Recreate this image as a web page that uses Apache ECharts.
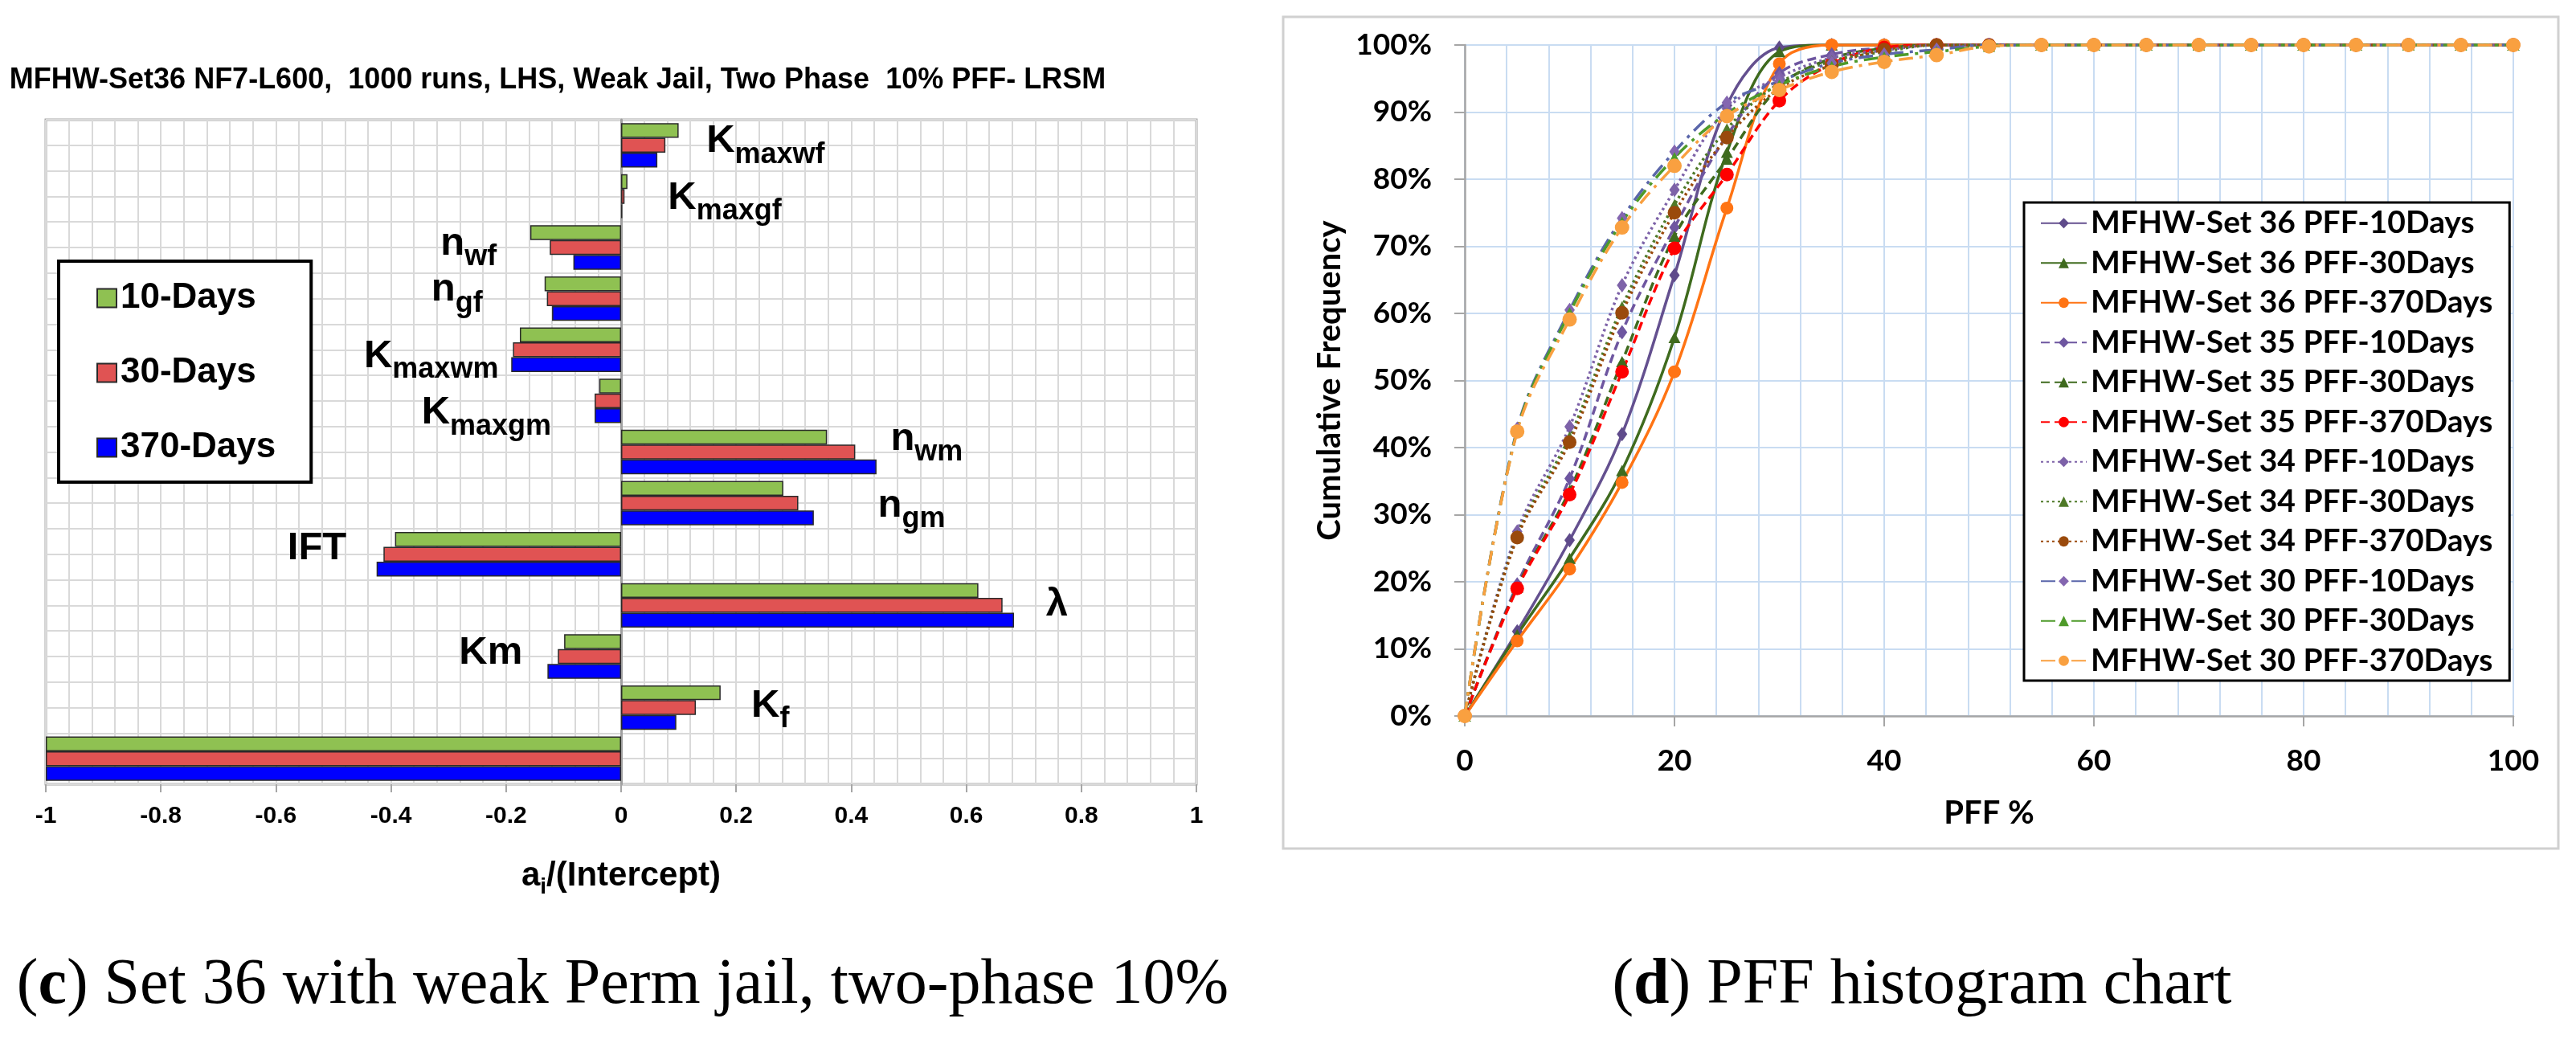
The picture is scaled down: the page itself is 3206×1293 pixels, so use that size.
<!DOCTYPE html>
<html>
<head>
<meta charset="utf-8">
<script src="https://cdn.jsdelivr.net/npm/echarts@6/dist/echarts.min.js"></script>
<style>
html,body{margin:0;padding:0;background:#ffffff;}
#c{width:3206px;height:1293px;}
</style>
</head>
<body>
<div id="c"></div>
<script>
// ---------- left chart data ----------
const categories = ['Kmaxwf','Kmaxgf','nwf','ngf','Kmaxwm','Kmaxgm','nwm','ngm','IFT','λ','Km','Kf','Intercept'];
const categoryLabels = ['{m|K}{s|maxwf}','{m|K}{s|maxgf}','{m|n}{s|wf}','{m|n}{s|gf}','{m|K}{s|maxwm}','{m|K}{s|maxgm}','{m|n}{s|wm}','{m|n}{s|gm}','{m|IFT}','{m|λ}','{m|Km}','{m|K}{s|f}',''];
const days10  = [0.100, 0.011, -0.158, -0.133, -0.176, -0.038, 0.358, 0.282, -0.393, 0.621, -0.099, 0.173, -1];
const days30  = [0.077, 0.006, -0.124, -0.129, -0.188, -0.046, 0.407, 0.308, -0.413, 0.663, -0.110, 0.130, -1];
const days370 = [0.063, 0.002, -0.083, -0.120, -0.191, -0.046, 0.444, 0.335, -0.425, 0.683, -0.128, 0.096, -1];
const barSeriesNames = ['10-Days','30-Days','370-Days'];

// ---------- right chart data ----------
const pffSteps = [0,5,10,15,20,25,30,35,40,45,50,55,60,65,70,75,80,85,90,95,100];
const s36d10  = [0,12.6,26.2,42.0,65.7,91.0,99.6,100,100,100,100,100,100,100,100,100,100,100,100,100,100];
const s36d30  = [0,12.1,23.5,36.6,56.4,84.0,99.0,100,100,100,100,100,100,100,100,100,100,100,100,100,100];
const s36d370 = [0,11.2,21.9,34.8,51.3,75.7,97.2,100,100,100,100,100,100,100,100,100,100,100,100,100,100];
const s35d10  = [0,19.6,35.4,57.2,72.8,86.5,95.8,98.6,99.6,100,100,100,100,100,100,100,100,100,100,100,100];
const s35d30  = [0,19.2,33.6,52.8,71.5,83.0,93.8,98.0,99.5,100,100,100,100,100,100,100,100,100,100,100,100];
const s35d370 = [0,19.0,33.0,51.3,69.7,80.7,91.7,97.2,99.6,100,100,100,100,100,100,100,100,100,100,100,100];
const s34d10  = [0,27.5,43.1,64.2,78.4,90.5,95.2,98.1,99.2,100,100,100,100,100,100,100,100,100,100,100,100];
const s34d30  = [0,26.9,41.6,61.0,76.2,87.5,94.3,97.6,99.0,100,100,100,100,100,100,100,100,100,100,100,100];
const s34d370 = [0,26.6,40.8,60.1,75.0,86.2,93.5,97.0,99.3,100,100,100,100,100,100,100,100,100,100,100,100];
const s30d10  = [0,42.8,60.5,74.2,84.1,91.4,94.6,97.3,98.6,99.3,100,100,100,100,100,100,100,100,100,100,100];
const s30d30  = [0,42.6,60.1,73.6,83.2,89.8,94.0,96.8,98.2,99.0,99.8,100,100,100,100,100,100,100,100,100,100];
const s30d370 = [0,42.4,59.1,72.8,82.0,89.4,93.3,96.0,97.5,98.5,99.8,100,100,100,100,100,100,100,100,100,100];
const yTickPercent = [0,10,20,30,40,50,60,70,80,90,100];

const lineSeriesNames = [
  'MFHW-Set 36 PFF-10Days','MFHW-Set 36 PFF-30Days','MFHW-Set 36 PFF-370Days',
  'MFHW-Set 35 PFF-10Days','MFHW-Set 35 PFF-30Days','MFHW-Set 35 PFF-370Days',
  'MFHW-Set 34 PFF-10Days','MFHW-Set 34 PFF-30Days','MFHW-Set 34 PFF-370Days',
  'MFHW-Set 30 PFF-10Days','MFHW-Set 30 PFF-30Days','MFHW-Set 30 PFF-370Days'
];
const lineValues = [s36d10,s36d30,s36d370,s35d10,s35d30,s35d370,s34d10,s34d30,s34d370,s30d10,s30d30,s30d370];

// ---------- styles ----------
const FONT = "'Liberation Sans', Arial, sans-serif";
const RFONT = "Lato, 'Open Sans', sans-serif";
const SERIF = "'Liberation Serif', 'Times New Roman', serif";
const barColors = ['#8FC152', '#E05353', '#0000FF'];
const DASH = [11, 6], DOT = [3, 4], DASHDOT = [18, 8, 4, 8];
const lineStyles = [
  {c:'#64508F', m:'#5F4B8B', sym:'diamond',  size:[13,18], dash:'solid'},
  {c:'#3F6B1E', m:'#3F6B1E', sym:'triangle', size:[15,14], dash:'solid'},
  {c:'#FF7414', m:'#FF7414', sym:'circle',   size:16,      dash:'solid'},
  {c:'#6E56A0', m:'#6E56A0', sym:'diamond',  size:[13,18], dash:DASH},
  {c:'#3F6B1E', m:'#3F6B1E', sym:'triangle', size:[15,14], dash:DASH},
  {c:'#FF0000', m:'#FF0000', sym:'circle',   size:17,      dash:DASH},
  {c:'#7D62A8', m:'#7D62A8', sym:'diamond',  size:[13,18], dash:DOT},
  {c:'#4F7A28', m:'#4F7A28', sym:'triangle', size:[15,14], dash:DOT},
  {c:'#9A4A0C', m:'#9A4A0C', sym:'circle',   size:17,      dash:DOT},
  {c:'#5A66AA', m:'#8466B0', sym:'diamond',  size:[13,18], dash:DASHDOT},
  {c:'#4E9A2A', m:'#4E9A2A', sym:'triangle', size:[15,14], dash:DASHDOT},
  {c:'#F9A040', m:'#F9A040', sym:'circle',   size:18,      dash:DASHDOT}
];
// placement of the parameter labels, relative to the middle (30-Days) bar
const labelPlace = [
  {p:'right', d:51, dy:-1}, {p:'right', d:54, dy:6}, {p:'left', d:66, dy:-1}, {p:'left', d:80, dy:-7},
  {p:'left', d:18, dy:12},  {p:'left', d:54, dy:19}, {p:'right', d:44, dy:-12}, {p:'right', d:99, dy:7},
  {p:'left', d:46, dy:-3},  {p:'right', d:54, dy:3}, {p:'left', d:44, dy:0},  {p:'right', d:69, dy:2},
  null
];
// subscript: main glyphs padded below, subscript padded above -> sub sits lower
const richLbl = {
  m: {fontSize:49, fontWeight:'bold', fontFamily:FONT, color:'#000', lineHeight:50, padding:[0,0,8,0]},
  s: {fontSize:36, fontWeight:'bold', fontFamily:FONT, color:'#000', lineHeight:32, padding:[26,0,0,0]}
};

const barData = [days10, days30, days370];
const barSeries = barData.map((vals, si) => ({
  name: barSeriesNames[si],
  type: 'bar',
  xAxisIndex: 0, yAxisIndex: 0,
  barGap: '0%', barCategoryGap: '13%',
  itemStyle: {color: barColors[si], borderColor: '#2a2a2a', borderWidth: 1.5},
  emphasis: {disabled: true},
  data: vals.map((v, i) => {
    const item = {value: v};
    if (si === 1 && labelPlace[i]) {
      item.label = {
        show: true, position: labelPlace[i].p, distance: labelPlace[i].d,
        offset: [0, labelPlace[i].dy],
        formatter: categoryLabels[i], rich: richLbl
      };
    }
    return item;
  })
}));

const lineSeries = lineValues.map((vals, si) => ({
  name: lineSeriesNames[si],
  type: 'line',
  xAxisIndex: 1, yAxisIndex: 2,
  smooth: 0.35,
  symbol: lineStyles[si].sym,
  symbolSize: lineStyles[si].size,
  showSymbol: true,
  lineStyle: {color: lineStyles[si].c, width: 3.5, type: lineStyles[si].dash},
  itemStyle: {color: lineStyles[si].m, borderWidth: 0},
  emphasis: {disabled: true},
  data: pffSteps.map((x, i) => [x, vals[i]])
}));

const chart = echarts.init(document.getElementById('c'), null, {renderer: 'canvas', width: 3206, height: 1293});
const option = {
  animation: false,
  backgroundColor: '#ffffff',
  textStyle: {fontFamily: FONT},
  grid: [
    {left: 57, top: 149, width: 1432, height: 827, show: true, borderColor: '#a6a6a6', borderWidth: 3, backgroundColor: 'transparent'},
    {left: 1823, top: 56, width: 1305, height: 835, show: false}
  ],
  legend: [
    {
      data: barSeriesNames, orient: 'vertical', left: 73, top: 325,
      itemWidth: 24, itemHeight: 23, itemGap: 43, itemTextGap: 11,
      padding: [21, 44, 18, 47], borderColor: '#000', borderWidth: 4, backgroundColor: '#fff',
      icon: 'rect', selectedMode: false,
      textStyle: {fontSize: 44, fontWeight: 'bold', fontFamily: FONT, color: '#000', lineHeight: 50}
    },
    {
      data: lineSeriesNames, orient: 'vertical', left: 2519, top: 252,
      itemWidth: 57, itemHeight: 16, itemGap: 0, itemTextGap: 7,
      padding: [1, 21, 0, 20], borderColor: '#000', borderWidth: 3, backgroundColor: '#fff',
      selectedMode: false,
      textStyle: {fontSize: 39, fontWeight: 'bold', fontFamily: RFONT, color: '#000', lineHeight: 49.5}
    }
  ],
  xAxis: [
    {
      gridIndex: 0, type: 'value', min: -1, max: 1, interval: 0.2,
      name: '{a|a}{s|i}{a|/(Intercept)}', nameLocation: 'middle', nameGap: 94,
      nameTextStyle: {rich: {
        a: {fontSize: 42, fontWeight: 'bold', fontFamily: FONT, color: '#000', lineHeight: 46, padding:[0,0,6,0]},
        s: {fontSize: 28, fontWeight: 'bold', fontFamily: FONT, color: '#000', lineHeight: 30, padding:[22,0,0,0]}
      }},
      axisLine: {show: false, onZero: false},
      axisTick: {show: true, length: 10, lineStyle: {color: '#a6a6a6', width: 2}},
      axisLabel: {fontSize: 30, fontWeight: 'bold', color: '#000', margin: 25, fontFamily: FONT},
      splitLine: {show: true, lineStyle: {color: '#d9d9d9', width: 2}},
      minorTick: {show: false, splitNumber: 5},
      minorSplitLine: {show: true, lineStyle: {color: '#d9d9d9', width: 2}}
    },
    {
      gridIndex: 1, type: 'value', min: 0, max: 100, interval: 20,
      name: 'PFF %', nameLocation: 'middle', nameGap: 101,
      nameTextStyle: {fontSize: 40, fontWeight: 'bold', fontFamily: RFONT, color: '#000'},
      axisLine: {show: true, onZero: false, lineStyle: {color: '#a6a6a6', width: 2.5}},
      axisTick: {show: true, length: 13, lineStyle: {color: '#a6a6a6', width: 2}},
      axisLabel: {fontSize: 37, fontWeight: 'bold', color: '#000', margin: 38, fontFamily: RFONT},
      splitLine: {show: true, lineStyle: {color: '#C9DCF2', width: 2}},
      minorTick: {show: false, splitNumber: 5},
      minorSplitLine: {show: true, lineStyle: {color: '#C9DCF2', width: 2}}
    }
  ],
  yAxis: [
    {
      gridIndex: 0, type: 'category', data: categories, inverse: true,
      axisLine: {show: true, onZero: true, lineStyle: {color: '#a0a0a0', width: 3}},
      axisTick: {show: false}, axisLabel: {show: false}, splitLine: {show: false}
    },
    {
      gridIndex: 0, type: 'value', min: 0, max: 26, interval: 1,
      axisLine: {show: false}, axisTick: {show: false}, axisLabel: {show: false},
      splitLine: {show: true, lineStyle: {color: '#d9d9d9', width: 2}}
    },
    {
      gridIndex: 1, type: 'value', min: 0, max: 100, interval: 10,
      name: 'Cumulative Frequency', nameLocation: 'middle', nameGap: 148, nameRotate: 90,
      nameTextStyle: {fontSize: 40, fontWeight: 'bold', fontFamily: RFONT, color: '#000'},
      axisLine: {show: true, onZero: false, lineStyle: {color: '#a6a6a6', width: 2.5}},
      axisTick: {show: true, length: 13, lineStyle: {color: '#a6a6a6', width: 2}},
      axisLabel: {fontSize: 37, fontWeight: 'bold', color: '#000', margin: 41, fontFamily: RFONT,
        formatter: v => (yTickPercent.indexOf(v) >= 0 ? v + '%' : '')},
      splitLine: {show: true, lineStyle: {color: '#C9DCF2', width: 2}}
    }
  ],
  graphic: [
    {type: 'rect', shape: {x: 1597, y: 21, width: 1587, height: 1035}, style: {fill: 'none', stroke: '#d0d0d0', lineWidth: 3}, silent: true, z: -1},
    {type: 'text', x: 694, y: 100, style: {text: 'MFHW-Set36 NF7-L600,  1000 runs, LHS, Weak Jail, Two Phase  10% PFF- LRSM', fontSize: 36, fontWeight: 'bold', fontFamily: FONT, fill: '#000', align: 'center', verticalAlign: 'middle'}},
    {type: 'text', x: 775, y: 1227, style: {
      text: '({b|c}) Set 36 with weak Perm jail, two-phase 10%', fontSize: 80, fontFamily: SERIF, fill: '#000', align: 'center', verticalAlign: 'middle',
      rich: {b: {fontSize: 80, fontFamily: SERIF, fontWeight: 'bold', fill: '#000'}}}},
    {type: 'text', x: 2392, y: 1227, style: {
      text: '({b|d}) PFF histogram chart', fontSize: 80, fontFamily: SERIF, fill: '#000', align: 'center', verticalAlign: 'middle',
      rich: {b: {fontSize: 80, fontFamily: SERIF, fontWeight: 'bold', fill: '#000'}}}}
  ],
  series: barSeries.concat(lineSeries)
};
chart.setOption(option);
</script>
</body>
</html>
